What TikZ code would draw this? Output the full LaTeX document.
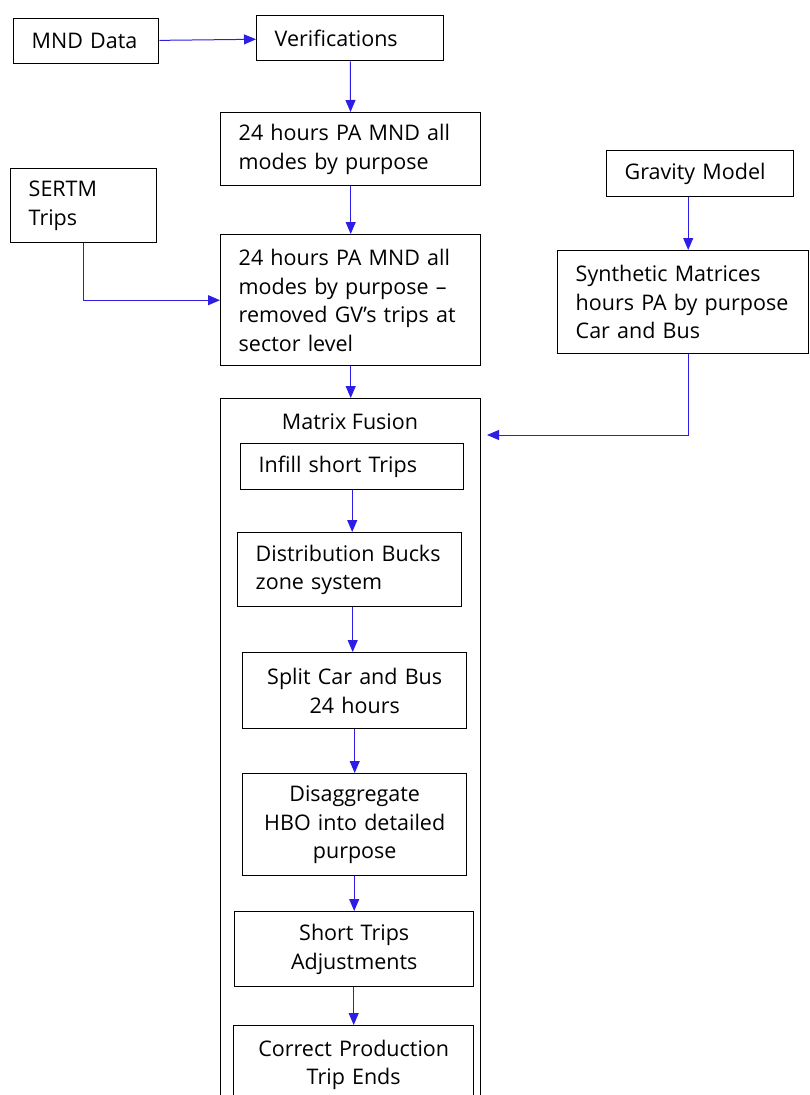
\documentclass[tikz,border=0pt]{standalone}
\usepackage{fontspec}
\setmainfont{Open Sans}
\usetikzlibrary{arrows.meta,positioning}
\definecolor{flowblue}{RGB}{45,30,230}

\begin{document}
\begin{tikzpicture}[x=1pt,y=-1pt,
		blk/.style={draw, line width=1.4pt, rectangle, anchor=north west, inner xsep=18pt, inner ysep=0pt, font=\fontsize{21.5}{28.5}\selectfont, align=left},
		ctr/.style={blk, align=center},
		flow/.style={draw=flowblue, line width=1pt, -{Triangle[length=12pt,width=10pt,fill=flowblue]}}]
		\useasboundingbox (0,0) rectangle (810,1095);
		\draw
			(13,18) node [blk, text width=109pt, minimum height=45pt] (mnd) {MND Data}
			(256,15) node [blk, text width=151pt, minimum height=45pt] (verif) {Verifications}
			(220,112) node [blk, text width=224pt, minimum height=73pt] (pamnd) {24 hours PA MND all\\modes by purpose}
			(10,168) node [blk, text width=110pt, minimum height=74pt] (sertm) {SERTM\\Trips}
			(220,234) node [blk, text width=224pt, minimum height=131pt] (pagv) {24 hours PA MND all\\modes by purpose --\\removed GV's trips at\\sector level}
			(606,150) node [blk, text width=151pt, minimum height=46pt] (grav) {Gravity Model}
			(557,250) node [blk, text width=215pt, minimum height=103pt] (synth) {Synthetic Matrices\\hours PA by purpose\\Car and Bus}
			;
		% matrix fusion frame
		\draw
			(220,398) node [blk, text width=224pt, minimum height=720pt] (fusion) {}
			(350,422) node [font=\fontsize{21.5}{28.5}\selectfont] (fustitle) {Matrix Fusion}
			(240,443) node [blk, text width=187pt, minimum height=46pt] (infill) {Infill short Trips}
			(237,532) node [blk, text width=188pt, minimum height=74pt] (dist) {Distribution Bucks\\zone system}
			(242,652) node [ctr, text width=188pt, minimum height=76pt] (split) {Split Car and Bus\\24 hours}
			(242,773) node [ctr, text width=188pt, minimum height=102pt] (disagg) {Disaggregate\\HBO into detailed\\purpose}
			(234,911) node [ctr, text width=203pt, minimum height=75pt] (short) {Short Trips\\Adjustments}
			(233,1025) node [ctr, text width=204pt, minimum height=78pt] (correct) {Correct Production\\Trip Ends}
			;
		\coordinate (fusin) at (487,435);
		\draw[flow] (mnd) -- (verif);
		\draw[flow] (verif) -- (pamnd);
		\draw[flow] (pamnd) -- (pagv);
		\draw[flow] (sertm.south) |- (pagv.west);
		\draw[flow] (pagv) -- (fusion.north);
		\draw[flow] ([xshift=-12pt]grav.south) -- ([xshift=-12pt]grav.south |- synth.north);
		\draw[flow] ([xshift=5pt]synth.south) |- (fusin);
		\draw[flow] (infill.south) -- (infill.south |- dist.north);
		\draw[flow] ([xshift=3pt]dist.south) -- ([xshift=3pt]dist.south |- split.north);
		\draw[flow] (split) -- (disagg);
		\draw[flow] (disagg.south -| short) -- (short.north);
		\draw[flow] (short.south -| correct) -- (correct.north);
	\end{tikzpicture}
\end{document}
